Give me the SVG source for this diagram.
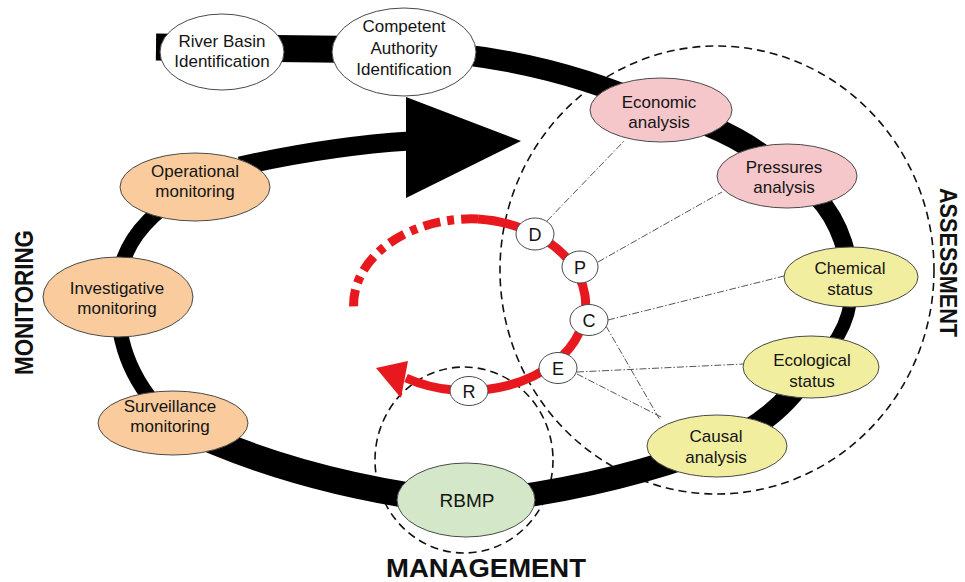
<svg xmlns="http://www.w3.org/2000/svg" width="965" height="582" viewBox="0 0 965 582">
  <defs>
    <style>
      .node { stroke: #4a4a4a; stroke-width: 1; }
      .white { fill: #ffffff; }
      .peach { fill: #f9cb9d; }
      .pink { fill: #f5c7cb; }
      .yellow { fill: #f2eea0; }
      .green { fill: #d4e8c9; }
      .lbl { font-family: "Liberation Sans", Arial, sans-serif; font-size: 17px; fill: #141414; text-anchor: middle; }
      .letter { font-family: "Liberation Sans", Arial, sans-serif; font-size: 18px; fill: #141414; text-anchor: middle; }
      .phase { font-family: "Liberation Sans", Arial, sans-serif; font-weight: bold; fill: #111; }
      .band { fill: none; stroke: #000; stroke-linecap: butt; }
      .zone { fill: none; stroke: #111; stroke-width: 1.6; stroke-dasharray: 8 5; }
      .link { fill: none; stroke: #555; stroke-width: 1; stroke-dasharray: 7 2 1.5 2; }
      .red { fill: none; stroke: #e8191e; stroke-width: 9; }
    </style>
  </defs>

  <!-- dashed zones -->
  <g id="zones">
    <ellipse class="zone" cx="717" cy="270" rx="217" ry="224"/>
    <ellipse class="zone" cx="464" cy="460" rx="89" ry="93"/>
  </g>

  <!-- main cycle band -->
  <g id="connectors">
    <path class="band" stroke-width="27" d="M156 47 L404 50"/>
    <path class="band" stroke-width="21" d="M404 50 Q540 55 661 110"/>
    <path class="band" stroke-width="22" d="M661 110 Q740 130 787 176"/>
    <path class="band" stroke-width="18" d="M787 176 Q840 200 851 276"/>
    <path class="band" stroke-width="13" d="M851 276 Q856 330 811 367"/>
    <path class="band" stroke-width="22" d="M811 367 Q780 420 717 446"/>
    <path class="band" stroke-width="24" d="M717 446 Q600 490 466 503"/>
    <path class="band" stroke-width="26" d="M466 503 Q300 485 173 423"/>
    <path class="band" stroke-width="15" d="M173 423 Q115 370 118 297"/>
    <path class="band" stroke-width="15" d="M118 297 Q115 230 195 187"/>
    <path class="band" stroke-width="19" d="M240 166 Q330 146 410 141"/>
    <polygon points="406,97 521,141 406,198" fill="#000"/>
  </g>

  <!-- DPSIR cycle -->
  <g id="dpsir-cycle">
    <path class="red" stroke-dasharray="17 7 7 7" d="M478 219 A118 86 0 0 0 354 312"/>
    <path class="red" d="M478 219 A118 86 0 1 1 406 378"/>
    <polygon points="376,368 408,361 401,398" fill="#e8191e"/>
  </g>

  <!-- links from DPSIR steps to assessment nodes -->
  <g id="links">
    <path class="link" d="M547 221 L625 140"/>
    <path class="link" d="M598 262 L722 192"/>
    <path class="link" d="M608 320 L784 276"/>
    <path class="link" d="M577 372 L744 364"/>
    <path class="link" d="M577 374 L663 418"/>
    <path class="link" d="M606 326 L660 420"/>
  </g>

  <g id="river-basin">
    <ellipse class="node white" cx="222" cy="52" rx="62" ry="38"/>
    <text class="lbl" x="222" y="47">River Basin</text>
    <text class="lbl" x="222" y="67">Identification</text>
  </g>
  <g id="competent-authority">
    <ellipse class="node white" cx="404" cy="52" rx="72" ry="44"/>
    <text class="lbl" x="404" y="32">Competent</text>
    <text class="lbl" x="404" y="54">Authority</text>
    <text class="lbl" x="404" y="75">Identification</text>
  </g>
  <g id="economic">
    <ellipse class="node pink" cx="661" cy="110" rx="71" ry="32"/>
    <text class="lbl" x="659" y="108">Economic</text>
    <text class="lbl" x="659" y="128">analysis</text>
  </g>
  <g id="pressures">
    <ellipse class="node pink" cx="787" cy="176" rx="70" ry="32"/>
    <text class="lbl" x="784" y="173">Pressures</text>
    <text class="lbl" x="784" y="193">analysis</text>
  </g>
  <g id="chemical">
    <ellipse class="node yellow" cx="851" cy="277" rx="67" ry="30"/>
    <text class="lbl" x="850" y="274">Chemical</text>
    <text class="lbl" x="850" y="295">status</text>
  </g>
  <g id="ecological">
    <ellipse class="node yellow" cx="811" cy="367" rx="68" ry="31"/>
    <text class="lbl" x="812" y="366">Ecological</text>
    <text class="lbl" x="812" y="387">status</text>
  </g>
  <g id="causal">
    <ellipse class="node yellow" cx="717" cy="446" rx="70" ry="31"/>
    <text class="lbl" x="716" y="442">Causal</text>
    <text class="lbl" x="716" y="463">analysis</text>
  </g>
  <g id="rbmp">
    <ellipse class="node green" cx="466" cy="500" rx="69" ry="37"/>
    <text class="lbl" x="467" y="507" style="font-size:19px">RBMP</text>
  </g>
  <g id="surveillance">
    <ellipse class="node peach" cx="173" cy="423" rx="75" ry="32"/>
    <text class="lbl" x="170" y="412">Surveillance</text>
    <text class="lbl" x="170" y="432">monitoring</text>
  </g>
  <g id="investigative">
    <ellipse class="node peach" cx="118" cy="297" rx="75" ry="40"/>
    <text class="lbl" x="117" y="294">Investigative</text>
    <text class="lbl" x="117" y="314">monitoring</text>
  </g>
  <g id="operational">
    <ellipse class="node peach" cx="195" cy="187" rx="75" ry="34"/>
    <text class="lbl" x="195" y="177">Operational</text>
    <text class="lbl" x="195" y="197">monitoring</text>
  </g>

  <!-- DPSIR step markers -->
  <g id="step-d">
    <ellipse class="node white" cx="535" cy="234" rx="19" ry="16"/>
    <text class="letter" x="535" y="240.5">D</text>
  </g>
  <g id="step-p">
    <ellipse class="node white" cx="580" cy="267" rx="18" ry="16"/>
    <text class="letter" x="580" y="273.5">P</text>
  </g>
  <g id="step-c">
    <ellipse class="node white" cx="589" cy="320" rx="19" ry="15.5"/>
    <text class="letter" x="589" y="326.5">C</text>
  </g>
  <g id="step-e">
    <ellipse class="node white" cx="558" cy="368" rx="19" ry="15.5"/>
    <text class="letter" x="558" y="374.5">E</text>
  </g>
  <g id="step-r">
    <ellipse class="node white" cx="469" cy="391" rx="19" ry="14.5"/>
    <text class="letter" x="469" y="397.5">R</text>
  </g>

  <!-- phase labels -->
  <g id="phase-labels">
    <text class="phase" transform="translate(33,375) rotate(-90)" font-size="25" textLength="145" lengthAdjust="spacingAndGlyphs">MONITORING</text>
    <text class="phase" transform="translate(940,188) rotate(90)" font-size="24" textLength="149" lengthAdjust="spacingAndGlyphs">ASSESSMENT</text>
    <text class="phase" x="386" y="577" font-size="25" textLength="200" lengthAdjust="spacingAndGlyphs">MANAGEMENT</text>
  </g>
</svg>
